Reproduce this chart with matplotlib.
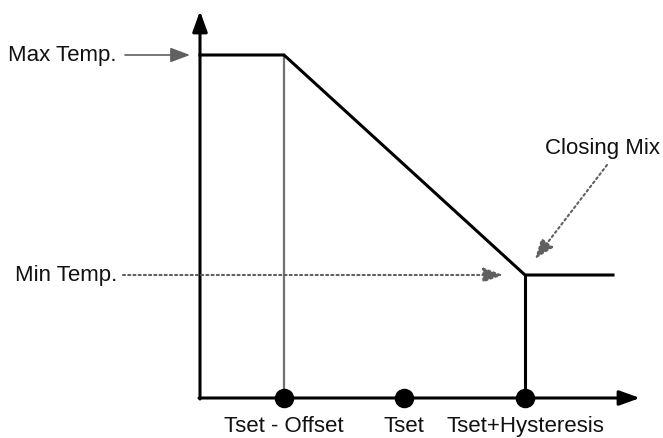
import matplotlib.pyplot as plt

# schematic mixing curve, coordinates in image pixels (y grows downward)
x_points = [284, 404, 525]          # Tset-Offset, Tset, Tset+Hysteresis
x_labels = ['Tset - Offset', 'Tset', 'Tset+Hysteresis']
y_levels = [56, 276]                # Max Temp., Min Temp.
y_labels = ['Max Temp.', 'Min Temp.']
x_origin, y_origin = 200, 399
x_end, y_top = 640, 12
curve_end = 613

plt.rcParams['font.family'] = ['Liberation Sans', 'DejaVu Sans']

fig = plt.figure(figsize=(6.63, 4.39), dpi=100)
ax = fig.add_axes([0, 0, 1, 1])
ax.set_xlim(0, 663)
ax.set_ylim(439, 0)
ax.axis('off')

big_head = '-|>,head_length=1.25,head_width=0.45'
small_head = '-|>,head_length=1.2,head_width=0.45'

# axes arrows
ax.annotate('', xy=(x_end, y_origin), xytext=(x_origin - 1, y_origin),
            arrowprops=dict(arrowstyle=big_head, color='black', lw=2.2, shrinkA=0, shrinkB=0))
ax.annotate('', xy=(x_origin, y_top), xytext=(x_origin, y_origin + 1),
            arrowprops=dict(arrowstyle=big_head, color='black', lw=2.2, shrinkA=0, shrinkB=0))

# gray guide at Tset-Offset
ax.plot([x_points[0], x_points[0]], [y_levels[0], y_origin], color='#707070', lw=1.6)

# curve
ax.plot([x_origin, x_points[0], x_points[2], curve_end],
        [y_levels[0], y_levels[0], y_levels[1], y_levels[1]], color='black', lw=2.2, solid_joinstyle='miter')
ax.plot([x_points[2], x_points[2]], [y_levels[1], y_origin], color='black', lw=2.2)

# dots on x axis
ax.scatter(x_points, [y_origin] * 3, s=170, color='black', zorder=5)
for xp, lab in zip(x_points, x_labels):
    ax.text(xp, 427, lab, ha='center', va='center', fontsize=16, color='#111111')

# y level labels
ax.text(8, y_levels[0], y_labels[0], ha='left', va='center', fontsize=16, color='#111111')
ax.annotate('', xy=(190, y_levels[0]), xytext=(125, y_levels[0]),
            arrowprops=dict(arrowstyle=small_head, color='#606060', lw=1.2, shrinkA=0, shrinkB=0))
ax.text(15, y_levels[1], y_labels[1], ha='left', va='center', fontsize=16, color='#111111')
ax.annotate('', xy=(503, y_levels[1]), xytext=(123, y_levels[1]),
            arrowprops=dict(arrowstyle=small_head, color='#606060', lw=1.5,
                            linestyle=(0, (1, 1.5)), shrinkA=0, shrinkB=0))

# closing mix callout
ax.text(660, 149, 'Closing Mix', ha='right', va='center', fontsize=16, color='#111111')
ax.annotate('', xy=(535, 260), xytext=(607, 166),
            arrowprops=dict(arrowstyle=small_head, color='#606060', lw=1.5,
                            linestyle=(0, (1, 1.5)), shrinkA=0, shrinkB=0))

fig.savefig('out.png', dpi=100)
